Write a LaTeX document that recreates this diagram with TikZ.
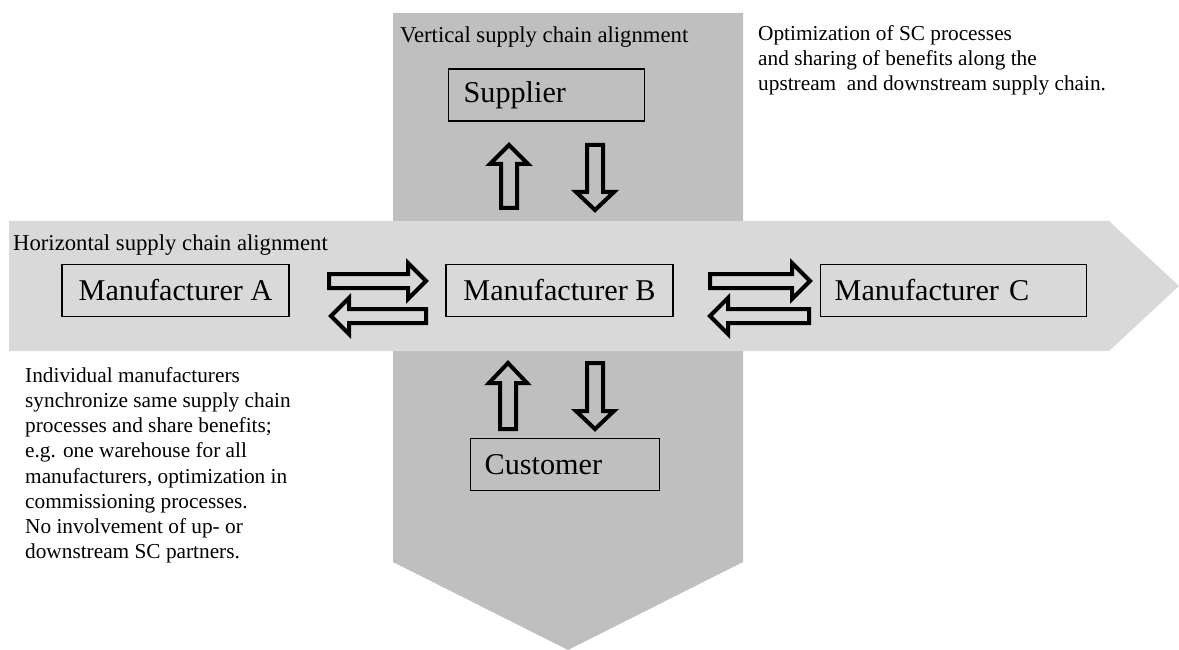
\documentclass[tikz,border=0pt]{standalone}
\usepackage{fontspec}
\setmainfont{Liberation Serif}
\definecolor{vband}{HTML}{BFBFBF}
\definecolor{hband}{HTML}{D9D9D9}
\newcommand\harrow[4]{% shaft end, head base, tip, y centre
  \draw[blk] (#1,#4-7) -- (#2,#4-7) -- (#2,#4-18) -- (#3,#4) -- (#2,#4+18) -- (#2,#4+7) -- (#1,#4+7) -- cycle;}
\newcommand\varrow[4]{% shaft end, head base, tip, x centre
  \draw[blk] (#4-8,#1) -- (#4-8,#2) -- (#4-19,#2) -- (#4,#3) -- (#4+19,#2) -- (#4+8,#2) -- (#4+8,#1) -- cycle;}
\begin{document}
\begin{tikzpicture}[x=1pt,y=-1pt,
  box/.style={draw, line width=1.3pt, inner sep=0pt, minimum height=52pt, font=\fontsize{30.2}{33}\selectfont},
  blk/.style={draw, line width=4pt, line join=miter, miter limit=10},
  note/.style={font=\fontsize{22.7}{25.2}\selectfont, align=left, inner sep=0pt},
  para/.style={font=\fontsize{21.3}{25.2}\selectfont, align=left, inner sep=0pt}]
\useasboundingbox (0,0) rectangle (1179,650);
% bands
\fill[vband] (393,13) -- (743,13) -- (743,562) -- (568,650) -- (393,562) -- cycle;
\fill[hband] (9,221) -- (1109,221) -- (1179,286) -- (1109,351) -- (9,351) -- cycle;
% labels
\node[note, anchor=base west] (vlab) at (400,43) {Vertical supply chain alignment};
\node[note, anchor=base west] (hlab) at (13,251) {Horizontal supply chain alignment};
\node[para, anchor=north west] (vtext) at (758,25) {Optimization of SC processes\\and sharing of benefits along the\\upstream\ \ and downstream supply chain.};
\node[para, anchor=north west] (htext) at (25,367) {Individual manufacturers\\synchronize same supply chain\\processes and share benefits;\\e.g. one warehouse for all\\manufacturers, optimization in\\commissioning processes.\\No involvement of up- or\\downstream SC partners.};
% boxes
\node[box, minimum width=227pt] (A) at (175.5,290.5) {Manufacturer A};
\node[box, minimum width=227pt] (B) at (559.5,290.5) {Manufacturer B};
\node[box, anchor=west, inner xsep=14pt, text width=238pt, align=left] (C) at (820,290.5) {Manufacturer C};
\node[box, anchor=west, inner xsep=15pt, text width=166pt, align=left] (S) at (448,95) {Supplier};
\node[box, anchor=west, inner xsep=14pt, text width=161pt, align=left] (K) at (470,464.5) {Customer};
% block arrows
\harrow{329}{408}{426}{281}
\harrow{426}{349}{331}{316}
\harrow{710}{792}{810}{281}
\harrow{809}{728}{710}{316}
\varrow{208}{164}{145}{509}
\varrow{145}{192}{210}{595}
\varrow{429}{383}{363}{508}
\varrow{363}{411}{429}{595}
\end{tikzpicture}
\end{document}
